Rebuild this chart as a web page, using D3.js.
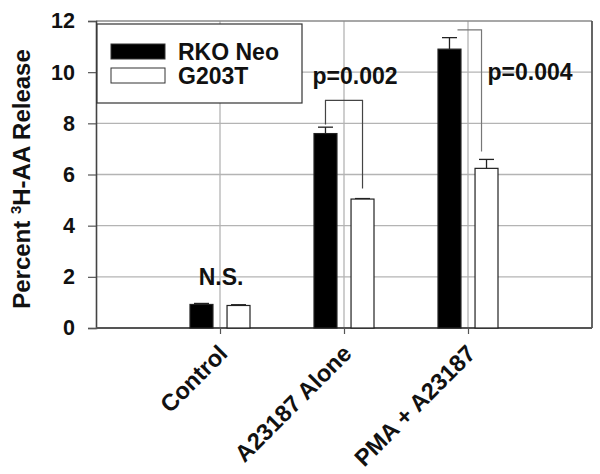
<!DOCTYPE html>
<html><head><meta charset="utf-8">
<script src="https://cdn.jsdelivr.net/npm/d3@7"></script>
<style>body{margin:0;background:#fff}svg{display:block}text{font-family:"Liberation Sans",Arial,sans-serif;font-weight:bold}</style>
</head><body>
<svg id="c" width="600" height="474"></svg>
<script>
const categories = ["Control", "A23187 Alone", "PMA + A23187"];
const seriesNames = ["RKO Neo", "G203T"];
const rkoNeo = [0.92, 7.6, 10.9];
const rkoNeoErr = [0.04, 0.25, 0.45];
const g203t = [0.88, 5.04, 6.24];
const g203tErr = [0.03, 0.02, 0.35];
const yTicks = [0, 2, 4, 6, 8, 10, 12];
const pLabels = ["N.S.", "p=0.002", "p=0.004"];

const svg = d3.select("#c");
const L = 96, R = 592, T = 21, B = 328;
const x = d3.scalePoint().domain(categories).range([L, R]).padding(1);
const xs = d3.scaleBand().domain(seriesNames).range([-30, 30]).paddingInner(0.38);
const y = d3.scaleLinear().domain([0, 12]).range([B, T]);

// gridlines
svg.append("g").selectAll("line").data(yTicks.filter(d => d > 0 && d < 12)).join("line")
  .attr("x1", L).attr("x2", R).attr("y1", d => y(d)).attr("y2", d => y(d))
  .attr("stroke", "#b4b4b4").attr("stroke-width", 1.3);
svg.append("g").selectAll("line").data(categories).join("line")
  .attr("x1", d => x(d)).attr("x2", d => x(d)).attr("y1", T).attr("y2", B)
  .attr("stroke", "#b4b4b4").attr("stroke-width", 1.3);
// frame
svg.append("line").attr("x1", L).attr("x2", R).attr("y1", T).attr("y2", T).attr("stroke", "#8a8a8a").attr("stroke-width", 1.5);
svg.append("line").attr("x1", R).attr("x2", R).attr("y1", T).attr("y2", B).attr("stroke", "#555").attr("stroke-width", 1.8);

// y axis
const yAxis = d3.axisLeft(y).tickValues(yTicks).tickSize(8).tickPadding(13).tickFormat(d3.format("d"));
const gy = svg.append("g").attr("transform", `translate(${L},0)`).call(yAxis);
gy.select(".domain").attr("stroke", "#444").attr("stroke-width", 1.6);
gy.selectAll(".tick line").attr("stroke", "#555").attr("stroke-width", 1.2);
gy.selectAll(".tick text").attr("font-size", 21.5).attr("font-family", "Liberation Sans, Arial, sans-serif").attr("font-weight", "bold").attr("fill", "#111");

// x axis
const xAxis = d3.axisBottom(x).tickSize(6).tickFormat("");
const gx = svg.append("g").attr("transform", `translate(0,${B})`).call(xAxis);
gx.select(".domain").attr("stroke", "#555").attr("stroke-width", 2).attr("d", `M${L},0H${R}`);
gx.selectAll(".tick line").attr("stroke", "#555").attr("stroke-width", 1.2);
svg.append("g").selectAll("text").data(categories).join("text")
  .attr("transform", d => `translate(${x(d) + 9},${B + 27}) rotate(-45)`)
  .attr("text-anchor", "end").attr("font-size", 23.5).attr("fill", "#111").text(d => d);

// bars
const data = categories.map((c, i) => ({c, vals: [
  {s: seriesNames[0], v: rkoNeo[i], e: rkoNeoErr[i]},
  {s: seriesNames[1], v: g203t[i], e: g203tErr[i]}]}));
const fills = {"RKO Neo": "#000", "G203T": "#fff"};
const grp = svg.append("g").selectAll("g").data(data).join("g").attr("transform", d => `translate(${x(d.c)},0)`);
// error bars
grp.selectAll("line.err").data(d => d.vals).join("line").attr("class", "err")
  .attr("x1", d => xs(d.s) + xs.bandwidth() / 2).attr("x2", d => xs(d.s) + xs.bandwidth() / 2)
  .attr("y1", d => y(d.v)).attr("y2", d => y(d.v + d.e)).attr("stroke", "#222").attr("stroke-width", 1.3);
grp.selectAll("line.cap").data(d => d.vals).join("line").attr("class", "cap")
  .attr("x1", d => xs(d.s) + xs.bandwidth() / 2 - 7.5).attr("x2", d => xs(d.s) + xs.bandwidth() / 2 + 7.5)
  .attr("y1", d => y(d.v + d.e)).attr("y2", d => y(d.v + d.e)).attr("stroke", "#222").attr("stroke-width", 1.3);
grp.selectAll("rect").data(d => d.vals).join("rect")
  .attr("x", d => xs(d.s)).attr("width", xs.bandwidth())
  .attr("y", d => y(d.v)).attr("height", d => y(0) - y(d.v))
  .attr("fill", d => fills[d.s]).attr("stroke", "#222").attr("stroke-width", 1.2);

// significance brackets
const cx = (i, s) => x(categories[i]) + xs(seriesNames[s]) + xs.bandwidth() / 2;
svg.append("path").attr("fill", "none").attr("stroke", "#444").attr("stroke-width", 1.2)
  .attr("d", `M${cx(1,0)},${y(7.95)}V${y(8.9)}H${cx(1,1)}V${y(5.45)}`);
svg.append("path").attr("fill", "none").attr("stroke", "#777").attr("stroke-width", 1.2)
  .attr("d", `M${cx(2,0) + 8},${y(11.65)}H${cx(2,1) - 5}V${y(6.9)}`);

// p labels
const pPos = [{i: 0, v: 1.68, dx: 1}, {i: 1, v: 9.54, dx: 11}, {i: 2, v: 9.69, dx: 62}];
svg.append("g").selectAll("text").data(pPos).join("text")
  .attr("x", d => x(categories[d.i]) + d.dx)
  .attr("y", d => y(d.v)).attr("text-anchor", "middle").attr("font-size", 23).attr("fill", "#111")
  .text((d, k) => pLabels[k]);

// legend
const lg = svg.append("g").attr("transform", "translate(97,24)");
lg.append("rect").attr("width", 205).attr("height", 79).attr("fill", "#fff").attr("stroke", "#333").attr("stroke-width", 1.2);
seriesNames.forEach((s, i) => {
  lg.append("rect").attr("x", 14).attr("y", 20 + i * 24).attr("width", 54).attr("height", 15)
    .attr("fill", fills[s]).attr("stroke", "#333").attr("stroke-width", 1);
  lg.append("text").attr("x", 81).attr("y", 36 + i * 24).attr("font-size", 23).attr("fill", "#111").text(s);
});

// y title
const yt = svg.append("text").attr("transform", "translate(30,179) rotate(-90)").attr("text-anchor", "middle")
  .attr("font-size", 24).attr("fill", "#111");
yt.append("tspan").text("Percent ");
yt.append("tspan").attr("font-size", 15).attr("dy", -9).text("3");
yt.append("tspan").attr("dy", 9).text("H-AA Release");
</script>
</body></html>
